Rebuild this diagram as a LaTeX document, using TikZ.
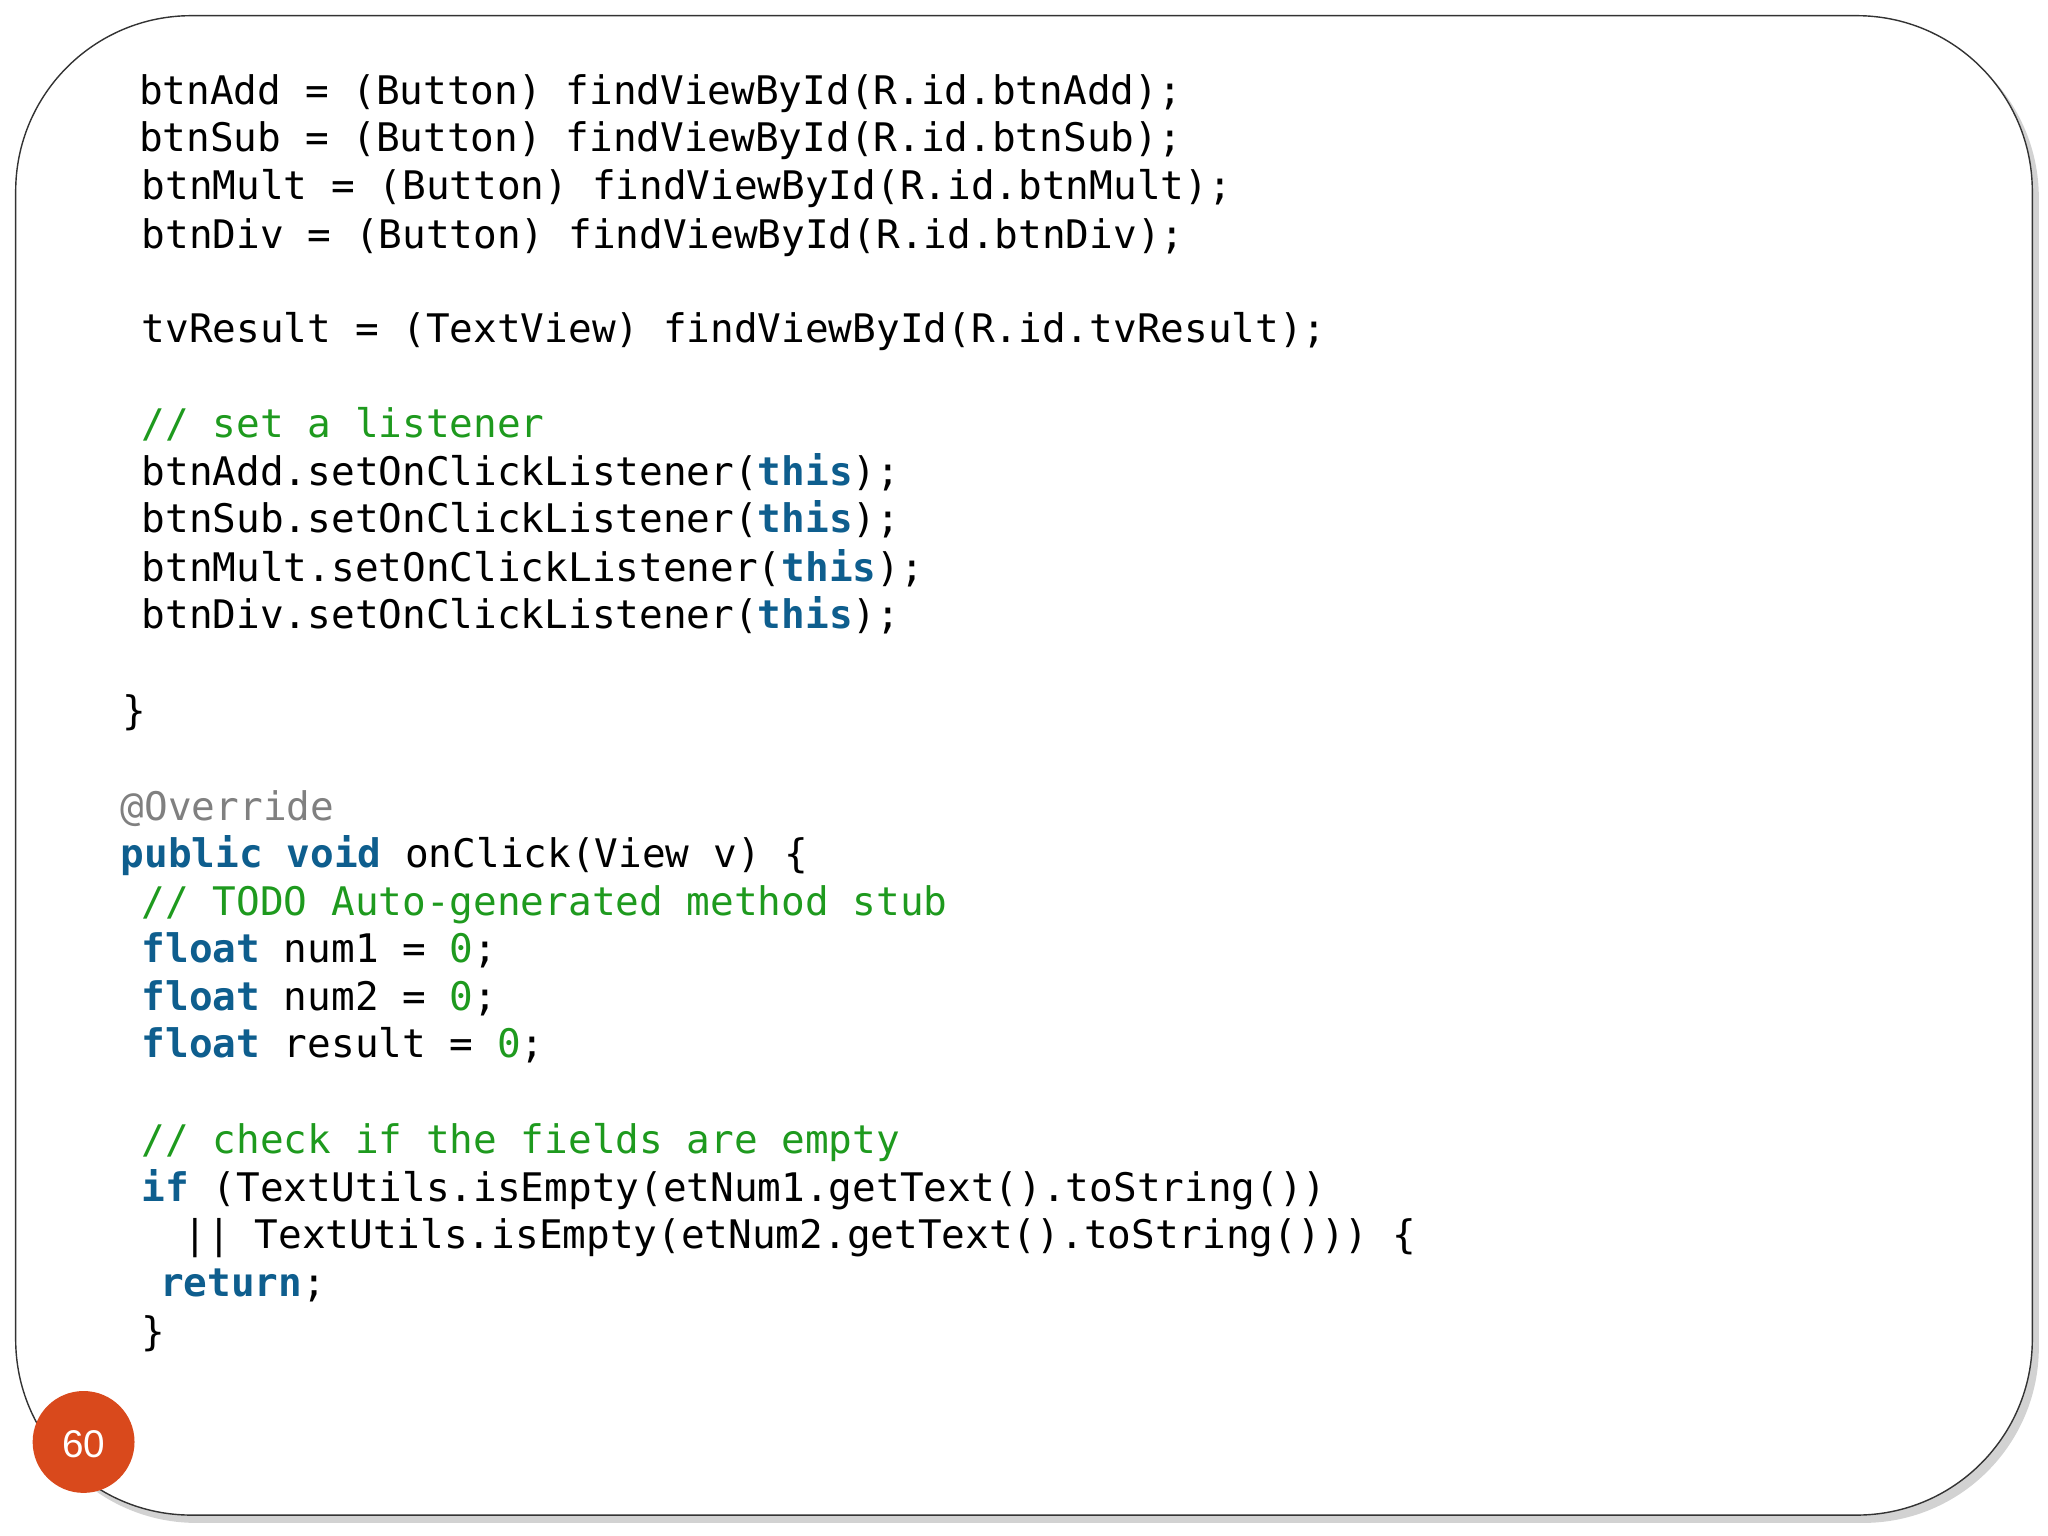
\documentclass[tikz,border=0pt]{standalone}
\usepackage{fontspec}
\setmonofont{DejaVu Sans Mono}
\setsansfont{Liberation Sans}
\definecolor{kwblue}{HTML}{0E5E8E}
\definecolor{cmgreen}{HTML}{1E9A1E}
\definecolor{badge}{HTML}{D9491C}
\newcommand{\kw}[1]{\textcolor{kwblue}{\textbf{#1}}}
\newcommand{\cm}[1]{\textcolor{cmgreen}{#1}}
\tikzset{code/.style={anchor=base west, inner sep=0pt, font=\ttfamily\fontsize{11.2}{13.6}\selectfont}}
\begin{document}
\begin{tikzpicture}[x=0.01306cm,y=-0.01306cm]
	% page
	\useasboundingbox (0,0) rectangle (1568,1176);
	\fill [gray!35,rounded corners=50] (16,17) rectangle (1561,1166);
	\filldraw [fill=white,draw=black!80,thin,rounded corners=50] (12,12) rectangle (1556,1160);
	
	% code lines
	\node[code] (l1) at (106,80) {btnAdd = (Button) findViewById(R.id.btnAdd);};
	\node[code] (l2) at (106,116) {btnSub = (Button) findViewById(R.id.btnSub);};
	\node[code] (l3) at (108,153) {btnMult = (Button) findViewById(R.id.btnMult);};
	\node[code] (l4) at (108,190) {btnDiv = (Button) findViewById(R.id.btnDiv);};
	\node[code] (l5) at (108,262) {tvResult = (TextView) findViewById(R.id.tvResult);};
	\node[code] (l6) at (108,335) {\cm{// set a listener}};
	\node[code] (l7) at (108,372) {btnAdd.setOnClickListener(\kw{this});};
	\node[code] (l8) at (108,408) {btnSub.setOnClickListener(\kw{this});};
	\node[code] (l9) at (108,445) {btnMult.setOnClickListener(\kw{this});};
	\node[code] (l10) at (108,481) {btnDiv.setOnClickListener(\kw{this});};
	\node[code] (l11) at (93,555) {\}};
	\node[code] (l12) at (92,628) {\textcolor{gray}{@Override}};
	\node[code] (l13) at (92,664) {\kw{public} \kw{void} onClick(View v) \{};
	\node[code] (l14) at (108,701) {\cm{// TODO Auto-generated method stub}};
	\node[code] (l15) at (108,737) {\kw{float} num1 = \cm{0};};
	\node[code] (l16) at (108,774) {\kw{float} num2 = \cm{0};};
	\node[code] (l17) at (108,810) {\kw{float} result = \cm{0};};
	\node[code] (l18) at (108,883) {\cm{// check if the fields are empty}};
	\node[code] (l19) at (108,920) {\kw{if} (TextUtils.isEmpty(etNum1.getText().toString())};
	\node[code] (l20) at (140,956) {|| TextUtils.isEmpty(etNum2.getText().toString())) \{};
	\node[code] (l21) at (122,993) {\kw{return};};
	\node[code] (l22) at (108,1030) {\}};
	
	% page number
	\fill [badge] (64,1104) circle [radius=39];
	\node[font=\sffamily\fontsize{11}{13}\selectfont, text=white] (num) at (64,1106) {60};
\end{tikzpicture}
\end{document}
